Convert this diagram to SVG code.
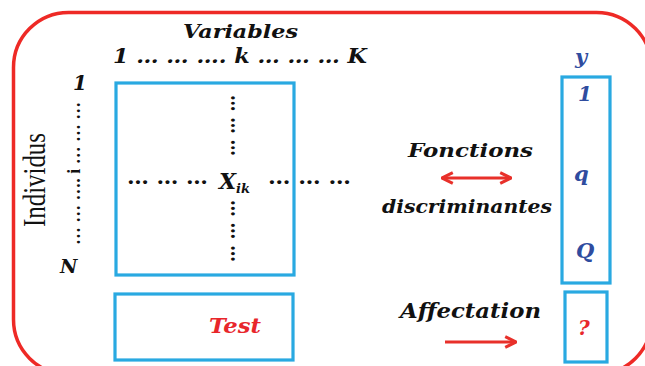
<svg xmlns="http://www.w3.org/2000/svg" width="645" height="366" viewBox="0 0 645 366">
<style>
.box{fill:#fff;stroke:#29a9e1;stroke-width:3.2}
.t{font-family:"DejaVu Serif","Liberation Serif",serif;font-style:italic;font-weight:bold;fill:#111}
.blue{fill:#2f4c9f}
.red{fill:#e8262b}
.dots{font-family:"DejaVu Serif",serif;font-weight:bold;font-size:20px;fill:#111}
.arrow{stroke:#e8302a;stroke-width:3;fill:none}
</style>
<defs>
<marker id="ah" viewBox="0 0 10 10" refX="9" refY="5" markerWidth="4.5" markerHeight="4.5" orient="auto-start-reverse" markerUnits="strokeWidth">
<path d="M1,1 L9,5 L1,9" fill="none" stroke="#e8302a" stroke-width="2.2"/>
</marker>
</defs>
<rect id="frame" x="13.5" y="12.5" width="638" height="362" rx="55" fill="none" stroke="#ee2a26" stroke-width="3.5"/>

<g id="header">
<text class="t" x="183" y="38" font-size="19" textLength="115" lengthAdjust="spacingAndGlyphs">Variables</text>
<text class="t" x="113" y="63" font-size="20" textLength="254" lengthAdjust="spacingAndGlyphs">1 … … …. k …  … … K</text>
</g>

<g id="rows">
<text class="t" x="73" y="90" font-size="20">1</text>
<text class="t" x="60" y="273" font-size="19">N</text>
<text transform="translate(80,245) rotate(-90)" font-family="Liberation Serif,serif" font-weight="bold" font-size="19" fill="#111" textLength="143" lengthAdjust="spacingAndGlyphs">… … …. i … … …</text>
<text transform="translate(45,227) rotate(-90)" font-family="Liberation Serif,serif" font-size="31" fill="#111" textLength="94" lengthAdjust="spacingAndGlyphs">Individus</text>
</g>

<g id="matrix">
<rect class="box" x="116" y="83" width="178" height="192"/>
<text class="dots" transform="translate(231,95) rotate(90)" textLength="61" lengthAdjust="spacingAndGlyphs">… … …</text>
<text class="dots" transform="translate(231,200) rotate(90)" textLength="62" lengthAdjust="spacingAndGlyphs">… … …</text>
<text class="dots" x="127" y="184" textLength="81" lengthAdjust="spacingAndGlyphs">… …  …</text>
<text class="dots" x="268" y="184" textLength="83" lengthAdjust="spacingAndGlyphs">… …  …</text>
<text class="t" x="219" y="189" font-size="22">X<tspan font-size="13" dy="4">ik</tspan></text>
</g>

<g id="y-column">
<text class="t blue" x="575" y="64" font-size="21">y</text>
<rect class="box" x="562" y="77" width="48" height="206"/>
<text class="t blue" x="578" y="101" font-size="20">1</text>
<text class="t blue" x="574" y="181" font-size="21">q</text>
<text class="t blue" x="576" y="258" font-size="21">Q</text>
</g>

<g id="test">
<rect class="box" x="115" y="294" width="178" height="66"/>
<text class="t red" x="209" y="333" font-size="20" textLength="52" lengthAdjust="spacingAndGlyphs">Test</text>
</g>

<g id="unknown">
<rect class="box" x="565" y="292" width="42" height="70"/>
<text class="t red" x="578" y="335" font-size="20">?</text>
</g>

<g id="labels">
<text class="t" x="408" y="157" font-size="19" textLength="125" lengthAdjust="spacingAndGlyphs">Fonctions</text>
<text class="t" x="382" y="213" font-size="19" textLength="170" lengthAdjust="spacingAndGlyphs">discriminantes</text>
<text class="t" x="400" y="318" font-size="20" textLength="141" lengthAdjust="spacingAndGlyphs">Affectation</text>
</g>

<g id="connectors">
<line class="arrow" x1="442" y1="178" x2="511" y2="178" marker-start="url(#ah)" marker-end="url(#ah)"/>
<line class="arrow" x1="445" y1="342" x2="516" y2="342" marker-end="url(#ah)"/>
</g>
</svg>
